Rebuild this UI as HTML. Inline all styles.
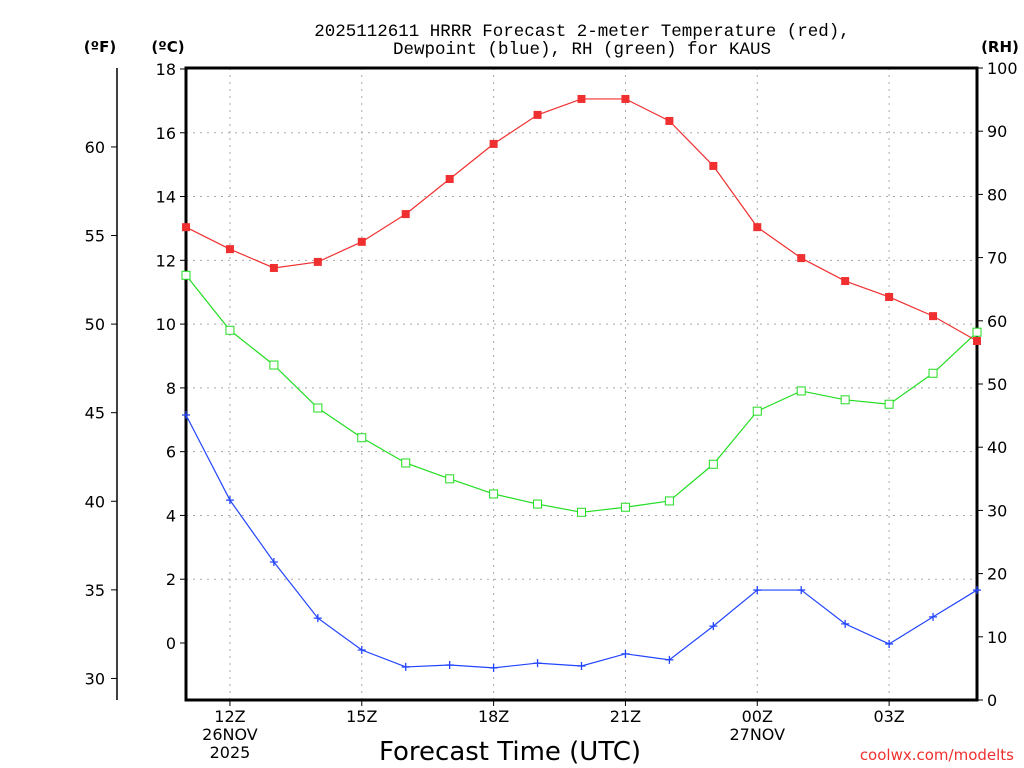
<!DOCTYPE html>
<html><head><meta charset="utf-8"><style>
body{margin:0;background:#fff;}
svg{display:block;font-family:"DejaVu Sans","Liberation Sans",sans-serif;}
</style></head><body>
<svg id="chart" width="1024" height="768">
<g id="grid"></g><g id="axes"></g><g id="series"></g>
<text x="582" y="36" text-anchor="middle" font-size="17.5" font-family="Liberation Mono, monospace">2025112611 HRRR Forecast 2-meter Temperature (red),</text>
<text x="582" y="54" text-anchor="middle" font-size="17.5" font-family="Liberation Mono, monospace">Dewpoint (blue), RH (green) for KAUS</text>
<text x="100" y="52" text-anchor="middle" font-size="15" font-weight="bold">(ºF)</text>
<text x="168" y="52" text-anchor="middle" font-size="15" font-weight="bold">(ºC)</text>
<text x="1000" y="52" text-anchor="middle" font-size="15" font-weight="bold">(RH)</text>
<text x="510" y="760" text-anchor="middle" font-size="26">Forecast Time (UTC)</text>
<text x="1014" y="760" text-anchor="end" font-size="15" fill="#f03030">coolwx.com/modelts</text>
</svg>
<script>
const hours=[0,1,2,3,4,5,6,7,8,9,10,11,12,13,14,15,16,17,18];
const tempC=[13.04,12.35,11.76,11.95,12.58,13.45,14.55,15.65,16.56,17.06,17.06,16.37,14.96,13.04,12.07,11.35,10.85,10.25,9.47];
const dewC=[7.15,4.48,2.54,0.78,-0.22,-0.75,-0.69,-0.78,-0.63,-0.72,-0.34,-0.53,0.53,1.66,1.66,0.6,-0.03,0.82,1.66];
const rh=[67.2,58.5,53.0,46.2,41.5,37.5,35.0,32.6,31.0,29.7,30.5,31.5,37.3,45.7,48.9,47.5,46.8,51.7,58.2];
const cTicks=[0,2,4,6,8,10,12,14,16,18];
const fTicks=[30,35,40,45,50,55,60];
const rhTicks=[0,10,20,30,40,50,60,70,80,90,100];
const xTickHours=[1,4,7,10,13,16];
const xTickLabels=[["12Z","26NOV","2025"],["15Z"],["18Z"],["21Z"],["00Z","27NOV"],["03Z"]];

const L=186,R=977,T=68,B=700;
const xS=h=>L+h*(R-L)/18;
const yC=c=>643-c*31.89;
const yF=f=>yC((f-32)*5/9);
const yR=r=>B-r*(B-T)/100;
const NS="http://www.w3.org/2000/svg";
function mk(p,tag,at){const e=document.createElementNS(NS,tag);for(const k in at)e.setAttribute(k,at[k]);p.appendChild(e);return e;}
const grid=document.getElementById('grid'),axes=document.getElementById('axes'),ser=document.getElementById('series');

cTicks.forEach(c=>{const y=yC(c);
 if(c>0&&c<18){const g=mk(grid,'line',{x1:L,x2:R,y1:y,y2:y,stroke:'#aaa','stroke-dasharray':'2,5'});
 
 }
 mk(axes,'line',{x1:L-6,x2:L,y1:y,y2:y,stroke:'#000'});
 const t=mk(axes,'text',{x:L-10,y:y+6,'text-anchor':'end','font-size':16});t.textContent=c;
 
 
});
xTickHours.forEach((h,i)=>{const x=xS(h);
 const g=mk(grid,'line',{x1:x,x2:x,y1:T,y2:B,stroke:'#aaa','stroke-dasharray':'2,5'});
 
 
 mk(axes,'line',{x1:x,x2:x,y1:B,y2:B+6,stroke:'#000'});
 xTickLabels[i].forEach((s,j)=>{const t=mk(axes,'text',{x:x,y:B+22+j*18,'text-anchor':'middle','font-size':16});t.textContent=s;
 
 });
});
fTicks.forEach(f=>{const y=yF(f);
 mk(axes,'line',{x1:111,x2:117,y1:y,y2:y,stroke:'#000'});
 const t=mk(axes,'text',{x:105,y:y+6,'text-anchor':'end','font-size':16});t.textContent=f;
 
 
});
mk(axes,'line',{x1:117,x2:117,y1:T,y2:B,stroke:'#000','stroke-width':1.5});
rhTicks.forEach(r=>{const y=yR(r);
 mk(axes,'line',{x1:R,x2:R+6,y1:y,y2:y,stroke:'#000'});
 const t=mk(axes,'text',{x:R+10,y:y+6,'font-size':16});t.textContent=r;
 
 
});
const box=mk(axes,'rect',{x:L,y:T,width:R-L,height:B-T,fill:'none',stroke:'#000','stroke-width':3});



function line(vals,yf,color,name,marker){
 const pts=vals.map((v,i)=>xS(hours[i])+','+yf(v)).join(' ');
 const pl=mk(ser,'polyline',{points:pts,fill:'none',stroke:color,'stroke-width':1.2});
 
 
 vals.forEach((v,i)=>{const x=xS(hours[i]),y=yf(v);let m;
  if(marker==='fill')m=mk(ser,'rect',{x:x-4,y:y-4,width:8,height:8,fill:color});
  else if(marker==='open')m=mk(ser,'rect',{x:x-4,y:y-4,width:8,height:8,fill:'#fff',stroke:color});
  else m=mk(ser,'path',{d:`M${x-4},${y}H${x+4}M${x},${y-4}V${y+4}`,stroke:color,'stroke-width':1.3});
  
  
 });
}
line(rh,yR,'#22dd22','rh','open');
line(dewC,yC,'#2244ff','dewpoint','plus');
line(tempC,yC,'#f03030','temperature','fill');
</script>
</body></html>
